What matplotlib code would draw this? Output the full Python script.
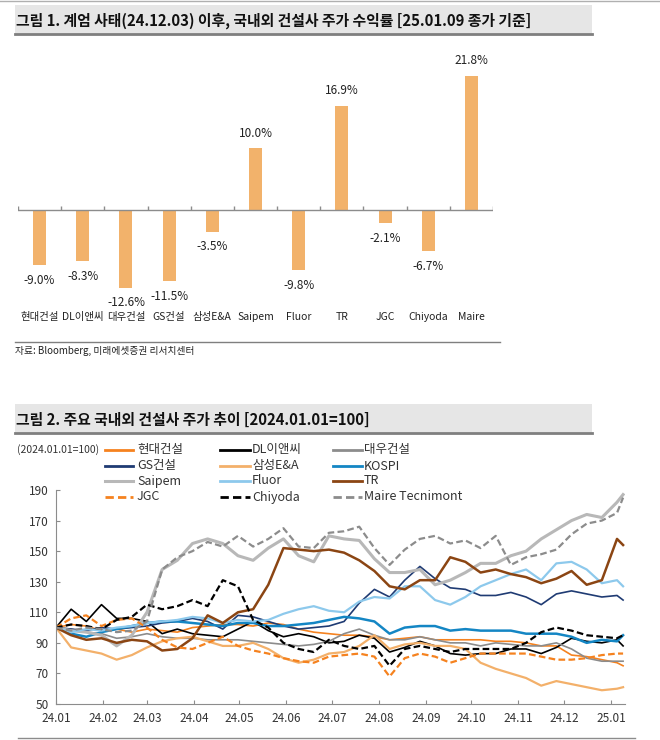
import matplotlib
matplotlib.use("Agg")
import matplotlib.pyplot as plt
import matplotlib.dates as mdates
from matplotlib.lines import Line2D
from matplotlib.patches import Rectangle
import pandas as pd

plt.rcParams['font.family'] = ['Noto Sans CJK KR', 'DejaVu Sans']
plt.rcParams['axes.unicode_minus'] = False

# ---- 그림 1 data ----
bar_names = ['현대건설', 'DL이앤씨', '대우건설', 'GS건설', '삼성E&A', 'Saipem',
             'Fluor', 'TR', 'JGC', 'Chiyoda', 'Maire']
bar_returns = [-9.0, -8.3, -12.6, -11.5, -3.5, 10.0, -9.8, 16.9, -2.1, -6.7, 21.8]

# ---- 그림 2 data (2024.01.01=100, read roughly every 10 days) ----
dates = list(pd.date_range('2024-01-01', periods=38, freq='10D')) + [pd.Timestamp('2025-01-09')]

hyundai = [100, 102, 101, 98, 99, 97, 99, 98, 97, 100, 101, 102, 102, 101, 103, 102, 99, 97, 96, 95,
           95, 94, 92, 93, 94, 92, 92, 92, 92, 91, 91, 90, 88, 88, 82, 81, 79, 77, 75]
dl_enc = [100, 112, 104, 115, 106, 106, 104, 96, 99, 96, 95, 94, 99, 104, 98, 94, 96, 94, 90, 91,
          95, 93, 84, 87, 91, 88, 83, 82, 83, 83, 86, 86, 83, 87, 93, 91, 90, 92, 88]
daewoo = [100, 99, 97, 96, 93, 94, 96, 94, 93, 93, 92, 92, 92, 91, 90, 89, 88, 89, 91, 96,
          99, 95, 92, 92, 94, 92, 90, 90, 88, 90, 89, 88, 88, 90, 86, 80, 78, 78, 78]
gs = [100, 99, 98, 100, 99, 100, 101, 103, 104, 106, 104, 99, 108, 107, 104, 101, 99, 100, 101, 104,
      116, 125, 120, 131, 140, 132, 126, 125, 121, 121, 123, 120, 115, 122, 124, 122, 120, 121, 118]
samsung_ea = [100, 87, 85, 83, 79, 82, 87, 91, 93, 94, 91, 88, 88, 90, 86, 80, 77, 79, 83, 84,
              88, 95, 86, 89, 90, 88, 88, 86, 77, 73, 70, 67, 62, 65, 63, 61, 59, 60, 61]
kospi = [100, 96, 94, 97, 99, 101, 103, 104, 104, 103, 102, 101, 103, 103, 101, 101, 102, 103, 105, 107,
         106, 104, 96, 100, 101, 101, 98, 99, 98, 98, 98, 96, 96, 96, 94, 90, 92, 91, 95]
saipem = [100, 98, 97, 95, 88, 95, 110, 138, 144, 155, 158, 155, 147, 144, 152, 158, 147, 143, 160, 158,
          157, 145, 136, 136, 138, 128, 131, 136, 142, 142, 147, 150, 158, 164, 170, 174, 172, 182, 187]
fluor = [100, 97, 99, 98, 100, 101, 103, 104, 105, 107, 106, 103, 105, 104, 105, 109, 112, 114, 111, 110,
         117, 120, 119, 127, 127, 118, 115, 120, 127, 131, 135, 138, 131, 142, 143, 138, 129, 131, 127]
tr = [100, 95, 92, 93, 90, 92, 91, 85, 86, 93, 108, 103, 110, 112, 128, 152, 151, 150, 151, 149,
      144, 137, 127, 125, 131, 131, 146, 143, 136, 138, 135, 133, 129, 132, 137, 128, 131, 158, 154]
jgc = [100, 106, 108, 101, 105, 106, 100, 92, 87, 86, 90, 94, 88, 85, 83, 80, 78, 77, 81, 82,
       83, 81, 68, 80, 83, 81, 77, 80, 83, 83, 83, 83, 81, 79, 79, 80, 82, 83, 83]
chiyoda = [100, 102, 101, 99, 105, 107, 115, 112, 114, 118, 114, 131, 127, 105, 100, 90, 86, 84, 92, 88,
           86, 88, 75, 86, 88, 86, 84, 86, 86, 86, 86, 90, 97, 100, 98, 95, 94, 93, 95]
maire = [100, 98, 100, 99, 97, 98, 104, 138, 146, 150, 156, 153, 160, 153, 158, 165, 153, 152, 162, 163,
         166, 152, 141, 151, 158, 160, 155, 157, 152, 160, 141, 146, 148, 151, 161, 168, 170, 175, 185]

# name, values, color, width, dashed ; legend is read row by row
series = [
    ('현대건설', hyundai, '#F5821F', 1.2, False),
    ('DL이앤씨', dl_enc, '#000000', 1.2, False),
    ('대우건설', daewoo, '#8C8C8C', 1.2, False),
    ('GS건설', gs, '#1F3B73', 1.2, False),
    ('삼성E&A', samsung_ea, '#F3B06A', 1.6, False),
    ('KOSPI', kospi, '#1486C4', 1.8, False),
    ('Saipem', saipem, '#B8B8B8', 2.2, False),
    ('Fluor', fluor, '#8DC9EC', 1.6, False),
    ('TR', tr, '#8B4513', 1.8, False),
    ('JGC', jgc, '#F5821F', 1.6, True),
    ('Chiyoda', chiyoda, '#000000', 1.6, True),
    ('Maire Tecnimont', maire, '#8C8C8C', 1.6, True),
]

W, H = 660, 740
fig = plt.figure(figsize=(6.6, 7.4), dpi=100)


def fx(px):
    return px / W


def fy(py):
    return 1 - py / H


def title_bar(top, bottom, text):
    fig.patches.append(Rectangle((fx(15), fy(bottom)), fx(577), (bottom - top) / H,
                                 transform=fig.transFigure, facecolor='#E6E6E6', edgecolor='none'))
    fig.lines.append(Line2D([fx(15), fx(592)], [fy(bottom), fy(bottom)], transform=fig.transFigure,
                            color='#7F7F7F', lw=2))
    fig.text(fx(16), fy((top + bottom) / 2 + 1), text, fontsize=10.7, fontweight='bold',
             va='center', ha='left', color='#111111')


# top thin line
fig.lines.append(Line2D([0, 1], [fy(1), fy(1)], transform=fig.transFigure, color='#B0B0B0', lw=1))
title_bar(5, 34, '그림 1. 계엄 사태(24.12.03) 이후, 국내외 건설사 주가 수익률 [25.01.09 종가 기준]')

# ---- bar chart ----
ax1 = fig.add_axes([fx(18), fy(319), fx(475), 274 / H])
xs = range(len(bar_names))
ax1.bar(xs, bar_returns, width=0.3, color='#F2B26B')
ax1.axhline(0, color='#8C8C8C', lw=1)
ax1.vlines([i - 0.5 for i in range(len(bar_names) + 1)], 0, 0.65, color='#8C8C8C', lw=1)
for i, v in enumerate(bar_returns):
    off = 11 if v > 0 else -11
    ax1.annotate(f'{v:.1f}%', (i, v), xytext=(0, off), textcoords='offset points',
                 ha='center', va='center', fontsize=8.5, color='#222222')
    ax1.text(i, -17.4, bar_names[i], ha='center', va='center', fontsize=7.5, color='#222222')
ax1.set_xlim(-0.5, len(bar_names) - 0.5)
ax1.set_ylim(-17.7, 26.8)
ax1.axis('off')

fig.lines.append(Line2D([fx(15), fx(500)], [fy(342), fy(342)], transform=fig.transFigure,
                        color='#7F7F7F', lw=1))
fig.text(fx(15), fy(351), '자료: Bloomberg, 미래에셋증권 리서치센터', fontsize=7, va='center',
         ha='left', color='#222222')

title_bar(404, 433, '그림 2. 주요 국내외 건설사 주가 추이 [2024.01.01=100]')

# ---- line chart ----
ax2 = fig.add_axes([fx(56), fy(704), fx(568.6), 214 / H])
for name, vals, color, lw, dashed in series:
    ax2.plot(dates, vals, color=color, lw=lw, ls=(0, (3, 1.5)) if dashed else '-')
ax2.set_ylim(50, 190)
ax2.set_yticks(range(50, 191, 20))
ax2.set_xlim(pd.Timestamp('2024-01-01'), pd.Timestamp('2025-01-10'))
ax2.xaxis.set_major_locator(mdates.MonthLocator())
ax2.xaxis.set_major_formatter(mdates.DateFormatter('%y.%m'))
for s in ['top', 'right']:
    ax2.spines[s].set_visible(False)
for s in ['left', 'bottom']:
    ax2.spines[s].set_color('#8C8C8C')
ax2.tick_params(direction='in', length=3, color='#8C8C8C', labelsize=8.5, labelcolor='#333333')
ax2.tick_params(axis='x', pad=6)
ax2.tick_params(axis='y', pad=5)

# legend drawn in rows of three
fig.text(fx(17), fy(450), '(2024.01.01=100)', fontsize=7.5, va='center', ha='left', color='#333333')
col_x = [(105, 133, 137), (220, 250, 252), (333, 362, 364)]
row_y = [450, 466, 481, 497]
for k, (name, vals, color, lw, dashed) in enumerate(series):
    x0, x1, tx = col_x[k % 3]
    yy = fy(row_y[k // 3])
    fig.lines.append(Line2D([fx(x0), fx(x1)], [yy, yy], transform=fig.transFigure, color=color,
                            lw=max(lw, 2.0), ls=(0, (3, 1.5)) if dashed else '-'))
    fig.text(fx(tx), yy, name, fontsize=9, va='center', ha='left', color='#333333')

fig.lines.append(Line2D([fx(18), fx(635)], [fy(738), fy(738)], transform=fig.transFigure,
                        color='#8C8C8C', lw=1))

fig.savefig('out.png', dpi=100)
